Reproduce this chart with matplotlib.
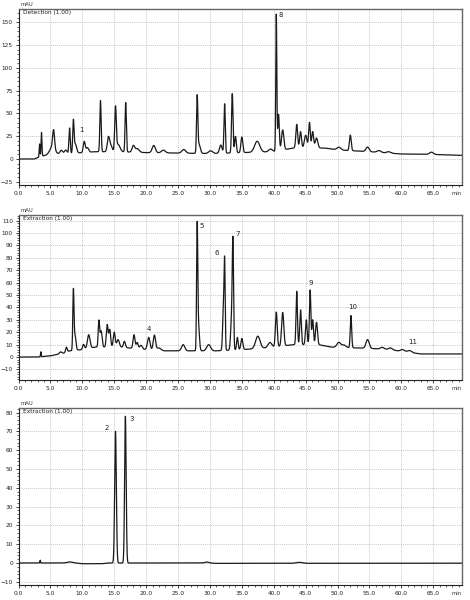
import numpy as np
import matplotlib
matplotlib.use("Agg")
import matplotlib.pyplot as plt
from matplotlib.ticker import MultipleLocator, FormatStrFormatter

# ---------------- data ----------------
# Panel 1: peak retention times (min), heights above baseline (mAU), widths (sigma, min)
p1_times   = [3.3, 3.6, 5.3, 5.5, 6.7, 7.4, 8.0, 8.6, 8.9, 10.3, 10.8, 12.85, 14.1, 14.5, 15.2, 15.6,
              16.8, 18.0, 18.6, 21.2, 22.7, 25.9, 28.0, 28.3, 30.1, 31.7, 32.3, 33.5, 34.0, 35.0,
              37.4, 39.5, 40.4, 40.75, 41.4, 43.6, 44.2, 45.0, 45.6, 46.1, 46.7, 50.2, 52.0, 54.7,
              56.5, 58.0, 64.7]
p1_heights = [14, 26, 8, 20, 4, 4, 28, 34, 10, 12, 5, 56, 16, 6, 47, 8,
              54, 7, 4, 8, 3, 4, 61, 10, 3, 9, 54, 65, 18, 17,
              12, 3, 150, 40, 22, 26, 18, 14, 28, 18, 11, 3, 17, 5,
              2, 1.5, 2.5]
p1_widths  = [0.06, 0.07, 0.4, 0.15, 0.2, 0.2, 0.1, 0.1, 0.2, 0.15, 0.2, 0.1, 0.18, 0.2, 0.12, 0.3,
              0.1, 0.2, 0.3, 0.25, 0.3, 0.3, 0.1, 0.2, 0.3, 0.2, 0.1, 0.11, 0.13, 0.15,
              0.4, 0.3, 0.08, 0.12, 0.18, 0.14, 0.14, 0.2, 0.13, 0.14, 0.2, 0.3, 0.14, 0.25,
              0.3, 0.3, 0.3]
p1_base_t  = [0, 2.5, 3.5, 5, 8, 12, 16, 20, 25, 30, 35, 40, 43, 48, 50, 55, 60, 65, 69.5]
p1_base_v  = [0, 0, 3, 5, 6, 8, 8, 7, 6.5, 6, 7, 8, 12, 12, 10, 8, 5.5, 5, 4]

# Panel 2
p2_times   = [3.5, 6.6, 7.5, 8.6, 8.85, 10.2, 11.0, 12.6, 12.95, 13.9, 14.3, 15.0, 15.6, 16.6,
              18.1, 18.6, 19.2, 20.4, 21.3, 22.0, 25.8, 28.0, 28.2, 29.8, 32.1, 32.3, 33.4, 33.6,
              34.3, 35.0, 37.5, 39.4, 40.4, 41.4, 43.6, 44.2, 45.1, 45.7, 46.1, 46.7, 50.2, 51.0,
              52.1, 54.7, 57.0, 58.3, 60.2, 61.3]
p2_heights = [4, 1.5, 4, 47, 12, 4, 11, 21, 13, 18, 14, 12, 6, 5,
              11, 5, 3, 10, 12, 2, 5, 96, 20, 5, 30, 68, 25, 81,
              10, 9, 10, 4, 28, 27, 43, 28, 20, 44, 20, 18, 4, 2,
              26, 7, 1.5, 1.5, 1.5, 1.5]
p2_widths  = [0.05, 0.2, 0.12, 0.09, 0.15, 0.15, 0.2, 0.11, 0.15, 0.14, 0.14, 0.15, 0.2, 0.15,
              0.15, 0.15, 0.2, 0.2, 0.18, 0.3, 0.25, 0.09, 0.15, 0.3, 0.12, 0.09, 0.15, 0.1,
              0.12, 0.15, 0.35, 0.3, 0.14, 0.17, 0.11, 0.12, 0.13, 0.11, 0.12, 0.15, 0.3, 0.3,
              0.11, 0.25, 0.3, 0.3, 0.3, 0.3]
p2_base_t  = [0, 3, 5, 7, 8, 10, 12, 16, 20, 23, 27, 31, 35, 38, 40, 43, 47, 49, 55, 58, 61, 63, 69.5]
p2_base_v  = [0, 0, 1, 3, 5, 6, 8, 8, 6, 5, 5, 5, 6, 7, 8, 10, 10, 8, 7, 6, 4, 2.5, 2.5]

# Panel 3
p3_times   = [3.4, 8.0, 15.2, 16.75, 29.5, 44.0]
p3_heights = [1.5, 0.6, 70, 78, 0.5, 0.5]
p3_widths  = [0.05, 0.4, 0.13, 0.12, 0.3, 0.5]
p3_base_t  = [0, 9, 10, 13, 14, 30, 31, 69.5]
p3_base_v  = [0, 0, -0.4, -0.4, 0, 0, -0.2, -0.1]

# Peak labels: (text, time, mAU)
p1_labels = [("1", 9.9, 32), ("8", 41.1, 158)]
p2_labels = [("4", 20.4, 23), ("5", 28.7, 106), ("6", 31.0, 84), ("7", 34.3, 99),
             ("9", 45.8, 60), ("10", 52.3, 40), ("11", 61.7, 12)]
p3_labels = [("2", 13.8, 72), ("3", 17.7, 76.5)]

titles = ["Detection (1.00)", "Extraction (1.00)", "Extraction (1.00)"]
x_ticks = [0, 5, 10, 15, 20, 25, 30, 35, 40, 45, 50, 55, 60, 65]

# ---------------- drawing ----------------
t = np.linspace(0, 69.5, 7000)

def trace(times, heights, widths, bt, bv):
    y = np.interp(t, bt, bv)
    for c, h, s in zip(times, heights, widths):
        y = y + h * np.exp(-0.5 * ((t - c) / s) ** 2)
    return y

fig = plt.figure(figsize=(4.7, 6.0), dpi=100)
W, H = 470.0, 600.0
left, right = 18.5, 462.0
panels = [
    dict(top=9, bot=185, ylim=(-28.5, 164.5), major=25, minor=5,
         data=(p1_times, p1_heights, p1_widths, p1_base_t, p1_base_v), labels=p1_labels),
    dict(top=215, bot=380, ylim=(-18.5, 114.5), major=10, minor=2,
         data=(p2_times, p2_heights, p2_widths, p2_base_t, p2_base_v), labels=p2_labels),
    dict(top=408, bot=585, ylim=(-11.7, 82.4), major=10, minor=2,
         data=(p3_times, p3_heights, p3_widths, p3_base_t, p3_base_v), labels=p3_labels),
]

for i, p in enumerate(panels):
    ax = fig.add_axes([left / W, 1 - p["bot"] / H, (right - left) / W, (p["bot"] - p["top"]) / H])
    y = trace(*p["data"])
    ax.plot(t, y, color="#1a1a1a", lw=0.9)
    ax.set_xlim(0, 69.5)
    ax.set_ylim(*p["ylim"])
    ax.set_xticks(x_ticks)
    ax.xaxis.set_major_formatter(FormatStrFormatter("%.1f"))
    ax.xaxis.set_minor_locator(MultipleLocator(1))
    ax.yaxis.set_major_locator(MultipleLocator(p["major"]))
    ax.yaxis.set_minor_locator(MultipleLocator(p["minor"]))
    ax.tick_params(which="major", length=2.5, width=0.6, labelsize=4.2, pad=1.5, colors="#222222")
    ax.tick_params(which="minor", length=1.3, width=0.5, colors="#222222")
    ax.grid(True, which="major", color="#b5b5b5", linestyle=(0, (1.5, 1.5)), lw=0.5)
    for s in ("left", "bottom"):
        ax.spines[s].set_color("#222222")
        ax.spines[s].set_linewidth(0.8)
    for s in ("top", "right"):
        ax.spines[s].set_color("#666666")
        ax.spines[s].set_linewidth(1.0)
    ax.text(0.005, 1.012, "mAU", transform=ax.transAxes, fontsize=3.8, ha="left", va="bottom", color="#333333")
    ax.text(0.01, 0.995, titles[i], transform=ax.transAxes, fontsize=4.2, ha="left", va="top", color="#222222")
    ax.text(1.0, -0.035, "min", transform=ax.transAxes, fontsize=3.8, ha="right", va="top", color="#333333")
    for txt, lt, lv in p["labels"]:
        ax.text(lt, lv, txt, fontsize=5, ha="center", va="center", color="#222222")

fig.savefig("out.png", dpi=100)
